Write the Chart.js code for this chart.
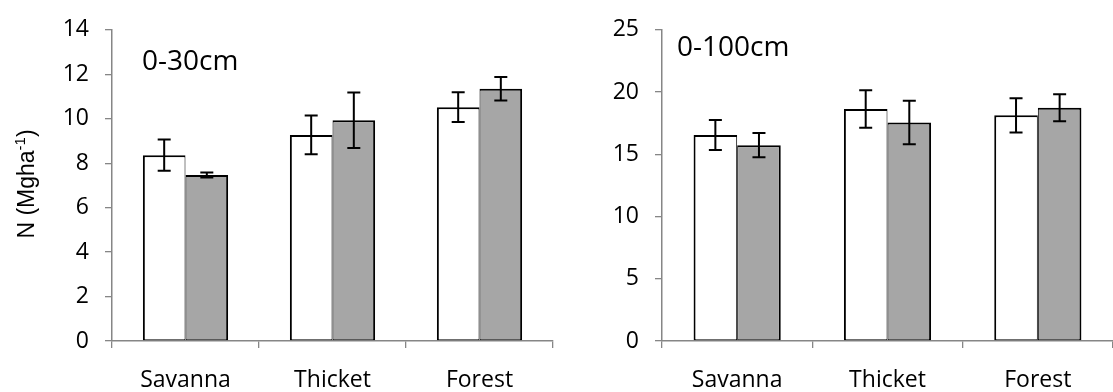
<!DOCTYPE html>
<html>
<head>
<meta charset="utf-8">
<script src="https://cdn.jsdelivr.net/npm/chart.js@4.4.1/dist/chart.umd.min.js"></script>
<style>
  html, body { margin: 0; padding: 0; background: #fff; }
  #wrap { position: relative; width: 1113px; height: 392px; overflow: hidden; }
  .box { position: absolute; top: 0; height: 392px; }
</style>
</head>
<body>
<div id="wrap">
  <div class="box" style="left:0;width:556px"><canvas id="c30"></canvas></div>
  <div class="box" style="left:556px;width:557px"><canvas id="c100"></canvas></div>
</div>
<script>
// soil N stocks per vegetation type
const categories = ['Savanna', 'Thicket', 'Forest'];

// 0-30cm layer
const n30Open = [8.36, 9.27, 10.52];
const n30OpenErr = [0.70, 0.87, 0.67];
const n30Grey = [7.47, 9.93, 11.35];
const n30GreyErr = [0.11, 1.25, 0.53];

// 0-100cm layer
const n100Open = [16.55, 18.64, 18.13];
const n100OpenErr = [1.20, 1.50, 1.38];
const n100Grey = [15.73, 17.55, 18.74];
const n100GreyErr = [0.97, 1.75, 1.08];

// y axis ranges
const yMax30 = 14, yStep30 = 2;
const yMax100 = 25, yStep100 = 5;

const axisGrey = '#868686';
const labelFont = { family: 'Open Sans', size: 23 };

// whiskers drawn on top of the bars
const errorBars = {
  id: 'errorBars',
  afterDatasetsDraw(chart) {
    const ctx = chart.ctx;
    const y = chart.scales.y;
    chart.data.datasets.forEach((ds, i) => {
      chart.getDatasetMeta(i).data.forEach((bar, j) => {
        const v = ds.data[j], e = ds.errors[j];
        const top = y.getPixelForValue(v + e);
        const bot = y.getPixelForValue(v - e);
        const w = 6.5;
        ctx.save();
        ctx.strokeStyle = '#000';
        ctx.lineWidth = 2;
        ctx.beginPath();
        ctx.moveTo(bar.x, top); ctx.lineTo(bar.x, bot);
        ctx.moveTo(bar.x - w, top); ctx.lineTo(bar.x + w, top);
        ctx.moveTo(bar.x - w, bot); ctx.lineTo(bar.x + w, bot);
        ctx.stroke();
        ctx.restore();
      });
    });
  }
};

// depth text inside the plot area
const depthLabel = {
  id: 'depthLabel',
  afterDraw(chart, args, opts) {
    if (!opts.text) return;
    const ctx = chart.ctx;
    ctx.save();
    ctx.font = '28px "Open Sans"';
    ctx.fillStyle = '#000';
    ctx.textBaseline = 'middle';
    ctx.fillText(opts.text, chart.chartArea.left + opts.dx, opts.y);
    ctx.restore();
  }
};

// rotated y title with a superscript
const yTitle = {
  id: 'yTitle',
  afterDraw(chart, args, opts) {
    if (!opts.show) return;
    const ctx = chart.ctx;
    const big = '23px "Liberation Sans"', small = '15px "Liberation Sans"';
    ctx.save();
    ctx.translate(opts.x, opts.y);
    ctx.rotate(-Math.PI / 2);
    ctx.fillStyle = '#000';
    ctx.textBaseline = 'alphabetic';
    ctx.font = big;
    const a = 'N (Mgha', c = ')';
    const wa = ctx.measureText(a).width, wc = ctx.measureText(c).width;
    ctx.font = small;
    const b = '-1';
    const wb = ctx.measureText(b).width;
    let x = -(wa + wb + wc) / 2;
    ctx.font = big;
    ctx.fillText(a, x, 8);
    x += wa;
    ctx.font = small;
    ctx.fillText(b, x, -1);
    x += wb;
    ctx.font = big;
    ctx.fillText(c, x, 8);
    ctx.restore();
  }
};

function makeChart(id, open, openErr, grey, greyErr, yMax, yStep, yWidth, pad, depth, showTitle) {
  return new Chart(document.getElementById(id), {
    type: 'bar',
    data: {
      labels: categories,
      datasets: [
        {
          label: 'Series 1',
          data: open,
          errors: openErr,
          backgroundColor: '#ffffff',
          borderColor: '#000',
          borderWidth: { top: 2, left: 2, right: 1, bottom: 1 },
          borderSkipped: false
        },
        {
          label: 'Series 2',
          data: grey,
          errors: greyErr,
          backgroundColor: '#a6a6a6',
          borderColor: '#000',
          borderWidth: { top: 2, left: 1, right: 2, bottom: 1 },
          borderSkipped: false
        }
      ]
    },
    options: {
      responsive: true,
      maintainAspectRatio: false,
      animation: false,
      events: [],
      layout: { padding: pad },
      categoryPercentage: 0.58,
      barPercentage: 1,
      plugins: {
        legend: { display: false },
        tooltip: { enabled: false },
        depthLabel: depth,
        yTitle: { show: showTitle, x: 26, y: 184 }
      },
      scales: {
        x: {
          grid: { offset: true, drawOnChartArea: false, tickLength: 7, color: axisGrey, lineWidth: 1.3 },
          border: { color: axisGrey, width: 1.5 },
          ticks: { font: labelFont, color: '#000', padding: 19 },
          afterFit: s => { s.height = 51; }
        },
        y: {
          min: 0,
          max: yMax,
          ticks: { stepSize: yStep, font: labelFont, color: '#000', padding: 16 },
          grid: { drawOnChartArea: false, tickLength: 7, color: axisGrey, lineWidth: 1.3 },
          border: { color: axisGrey, width: 1.5 },
          afterFit: s => { s.width = yWidth; }
        }
      }
    },
    plugins: [errorBars, depthLabel, yTitle]
  });
}

makeChart('c30', n30Open, n30OpenErr, n30Grey, n30GreyErr, yMax30, yStep30, 112,
  { top: 26, right: 3, left: 0, bottom: 0 }, { text: '0-30cm', dx: 30, y: 62 }, true);
makeChart('c100', n100Open, n100OpenErr, n100Grey, n100GreyErr, yMax100, yStep100, 106,
  { top: 25, right: 0, left: 0, bottom: 0 }, { text: '0-100cm', dx: 15, y: 48 }, false);
</script>
</body>
</html>
